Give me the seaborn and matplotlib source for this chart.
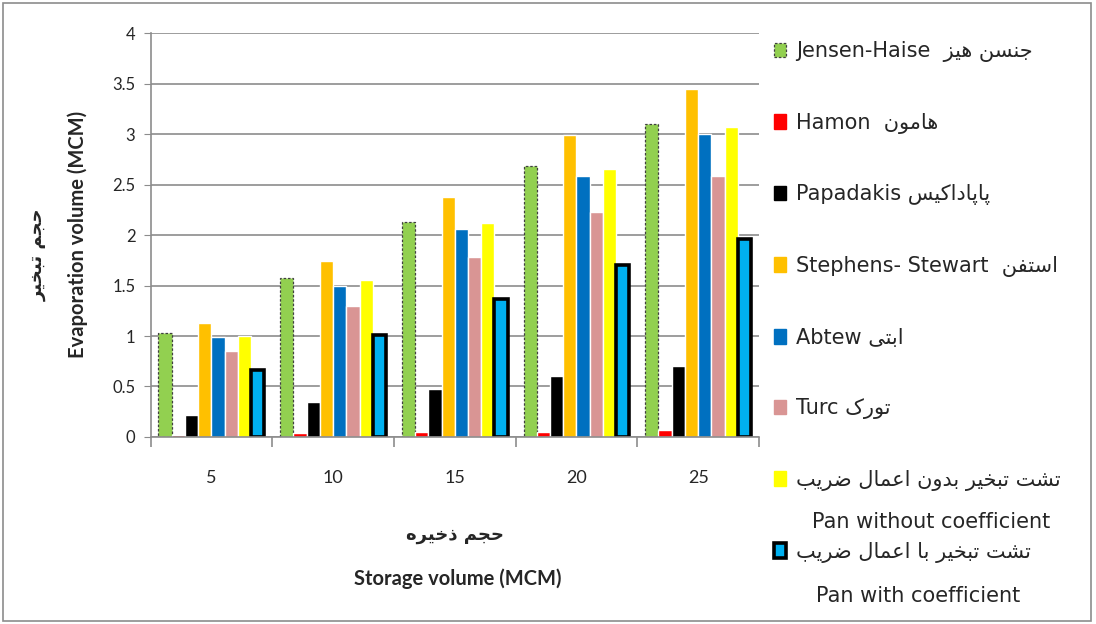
import numpy as np
import pandas as pd
import matplotlib.pyplot as plt
import matplotlib.ticker as ticker
from matplotlib.patches import Patch, Rectangle
import seaborn as sns

# values (MCM)
storage = ['5', '10', '15', '20', '25']
jensen = [1.03, 1.57, 2.13, 2.68, 3.10]
hamon = [0.02, 0.04, 0.05, 0.05, 0.07]
papadakis = [0.22, 0.35, 0.48, 0.60, 0.70]
stephens = [1.13, 1.74, 2.38, 2.99, 3.45]
abtew = [0.99, 1.50, 2.06, 2.58, 3.00]
turc = [0.85, 1.30, 1.78, 2.23, 2.58]
pan_raw = [1.00, 1.55, 2.12, 2.65, 3.07]
pan_coef = [0.66, 1.01, 1.37, 1.70, 1.96]

methods = ['Jensen-Haise', 'Hamon', 'Papadakis', 'Stephens-Stewart',
           'Abtew', 'Turc', 'Pan without coefficient', 'Pan with coefficient']
colors = ['#92D050', '#FF0000', '#000000', '#FFC000',
          '#0070C0', '#D99594', '#FFFF00', '#00B0F0']

# matplotlib has no arabic shaping, so pick the presentation forms by hand
FORMS = {
    'ا': ('\uFE8D', '\uFE8E'), 'ب': ('\uFE8F', '\uFE90', '\uFE91', '\uFE92'),
    'پ': ('\uFB56', '\uFB57', '\uFB58', '\uFB59'), 'ت': ('\uFE95', '\uFE96', '\uFE97', '\uFE98'),
    'ج': ('\uFE9D', '\uFE9E', '\uFE9F', '\uFEA0'), 'ح': ('\uFEA1', '\uFEA2', '\uFEA3', '\uFEA4'),
    'خ': ('\uFEA5', '\uFEA6', '\uFEA7', '\uFEA8'), 'د': ('\uFEA9', '\uFEAA'),
    'ذ': ('\uFEAB', '\uFEAC'), 'ر': ('\uFEAD', '\uFEAE'), 'ز': ('\uFEAF', '\uFEB0'),
    'س': ('\uFEB1', '\uFEB2', '\uFEB3', '\uFEB4'), 'ش': ('\uFEB5', '\uFEB6', '\uFEB7', '\uFEB8'),
    'ض': ('\uFEBD', '\uFEBE', '\uFEBF', '\uFEC0'), 'ع': ('\uFEC9', '\uFECA', '\uFECB', '\uFECC'),
    'ف': ('\uFED1', '\uFED2', '\uFED3', '\uFED4'), 'ک': ('\uFB8E', '\uFB8F', '\uFB90', '\uFB91'),
    'ل': ('\uFEDD', '\uFEDE', '\uFEDF', '\uFEE0'), 'م': ('\uFEE1', '\uFEE2', '\uFEE3', '\uFEE4'),
    'ن': ('\uFEE5', '\uFEE6', '\uFEE7', '\uFEE8'), 'ه': ('\uFEE9', '\uFEEA', '\uFEEB', '\uFEEC'),
    'و': ('\uFEED', '\uFEEE'), 'ی': ('\uFBFC', '\uFBFD', '\uFBFE', '\uFBFF'),
}


def fa(text):
    out = []
    for i, ch in enumerate(text):
        f = FORMS.get(ch)
        if f is None:
            out.append(ch)
            continue
        prev = text[i - 1] if i > 0 else ''
        nxt = text[i + 1] if i + 1 < len(text) else ''
        jp = prev in FORMS and len(FORMS[prev]) == 4
        jn = len(f) == 4 and nxt in FORMS
        if jp and jn:
            out.append(f[3])
        elif jp:
            out.append(f[1])
        elif jn:
            out.append(f[2])
        else:
            out.append(f[0])
    return ''.join(reversed(out))


legend_labels = ['Jensen-Haise  ' + fa('جنسن هیز'),
                 'Hamon  ' + fa('هامون'),
                 'Papadakis ' + fa('پاپاداکیس'),
                 'Stephens- Stewart  ' + fa('استفن'),
                 'Abtew ' + fa('ابتی'),
                 'Turc ' + fa('تورک'),
                 fa('تشت تبخیر بدون اعمال ضریب'),
                 fa('تشت تبخیر با اعمال ضریب')]

series = [jensen, hamon, papadakis, stephens, abtew, turc, pan_raw, pan_coef]
df = pd.DataFrame({
    'storage': storage * len(methods),
    'method': np.repeat(methods, len(storage)),
    'value': np.concatenate(series),
})

sns.set_style('white')
plt.rcParams['font.family'] = ['Lato', 'DejaVu Sans']

fig, ax = plt.subplots(figsize=(10.96, 6.24), dpi=100)
fig.subplots_adjust(left=0.1374, right=0.6925, bottom=0.2997, top=0.947)

sns.barplot(data=df, x='storage', y='value', hue='method', hue_order=methods,
            palette=dict(zip(methods, colors)), saturation=1, width=0.87,
            errorbar=None, legend=False, ax=ax)

# edge styles: dashed outline on Jensen-Haise, heavy black frame on pan with coefficient
for bar in ax.containers[0]:
    bar.set_edgecolor('#404040')
    bar.set_linestyle((0, (2, 1.5)))
    bar.set_linewidth(0.9)
for bar in ax.containers[7]:
    bar.set_edgecolor('black')
    bar.set_linewidth(2.6)

grey = '#8c8c8c'
ax.set_ylim(0, 4)
ax.set_xlim(-0.5, 4.5)
ax.yaxis.set_major_locator(ticker.MultipleLocator(0.5))
ax.yaxis.set_major_formatter(ticker.FuncFormatter(lambda v, p: '%g' % v))
ax.yaxis.grid(True, color=grey, lw=1.2)
ax.set_axisbelow(True)
for s in ['top', 'right']:
    ax.spines[s].set_visible(False)
for s in ['left', 'bottom']:
    ax.spines[s].set_color(grey)
    ax.spines[s].set_linewidth(1.2)
ax.tick_params(axis='y', left=True, length=5, color=grey, labelsize=12, pad=6)
ax.tick_params(axis='x', which='major', length=0, labelsize=13, pad=24)
ax.set_xticks(np.arange(-0.5, 5, 1), minor=True)
ax.tick_params(axis='x', which='minor', bottom=True, length=7, color=grey, width=1.2)
ax.set_xlabel('')
ax.set_ylabel('')

# axis titles (persian + english)
fig.text(0.071, 0.624, 'Evaporation volume (MCM)', rotation=90, ha='center', va='center',
         fontsize=14.5, fontweight='bold')
fig.text(0.034, 0.592, fa('حجم تبخیر'), rotation=90, ha='center', va='center',
         fontsize=13, fontweight='bold', family='DejaVu Sans')
fig.text(0.415, 0.143, fa('حجم ذخیره'), ha='center', va='center',
         fontsize=13, fontweight='bold', family='DejaVu Sans')
fig.text(0.418, 0.073, 'Storage volume (MCM)', ha='center', va='center',
         fontsize=14.5, fontweight='bold')

handles = [Patch(facecolor=c, edgecolor=c) for c in colors]
handles[0] = Patch(facecolor=colors[0], edgecolor='#404040', linestyle=(0, (2, 1.5)), lw=0.9)
handles[7] = Patch(facecolor=colors[7], edgecolor='black', lw=2.6)
leg = ax.legend(handles, legend_labels, loc='upper left', bbox_to_anchor=(0.706, 0.934),
                bbox_transform=fig.transFigure, frameon=False, borderpad=0, borderaxespad=0,
                handlelength=0.6, handleheight=0.7, handletextpad=0.45, labelspacing=2.43,
                prop={'family': 'DejaVu Sans', 'size': 15})
fig.text(0.850, 0.163, 'Pan without coefficient', ha='center', va='center',
         fontsize=15, family='DejaVu Sans')
fig.text(0.838, 0.045, 'Pan with coefficient', ha='center', va='center',
         fontsize=15, family='DejaVu Sans')

# thin frame round the whole chart
fig.patches.append(Rectangle((0.003, 0.005), 0.992, 0.99, transform=fig.transFigure,
                             fill=False, edgecolor=grey, lw=1.2))

fig.savefig('out.png', dpi=100)
